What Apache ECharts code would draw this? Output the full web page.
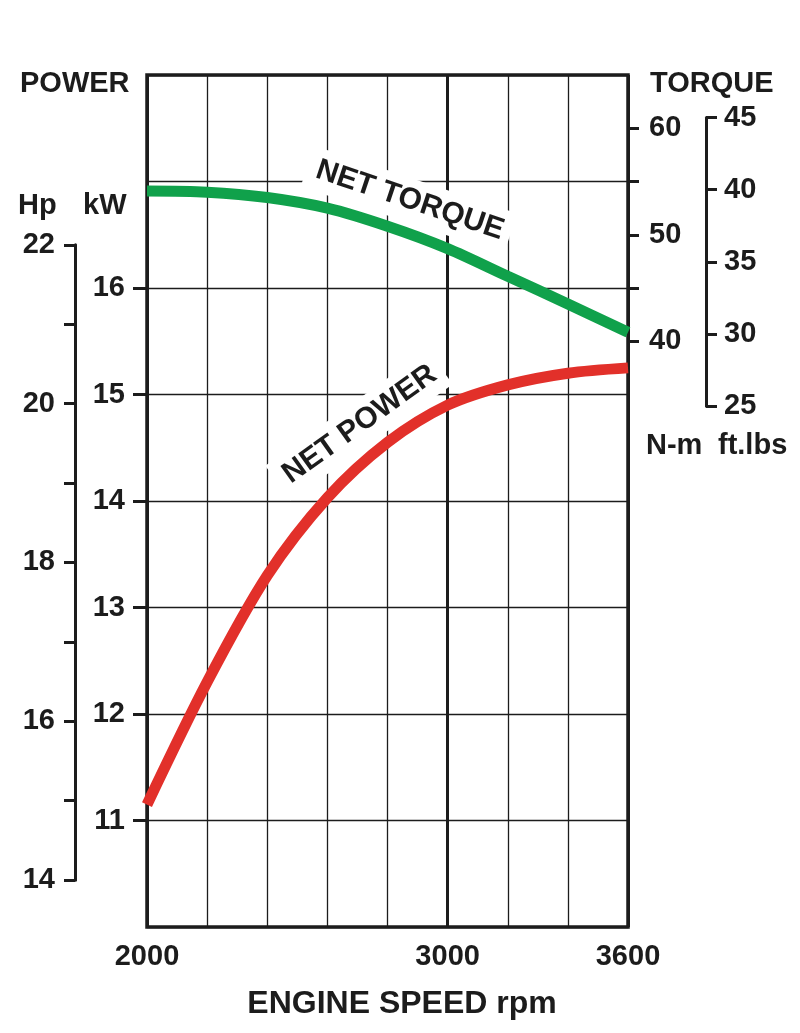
<!DOCTYPE html>
<html>
<head>
    <meta charset="UTF-8">
    <title>Engine performance</title>
    <script src="https://cdn.jsdelivr.net/npm/echarts@6/dist/echarts.min.js"></script>
    <style>
        html, body { margin: 0; padding: 0; background: #fff; }
        #chart { width: 800px; height: 1033px; }
    </style>
</head>
<body>
    <div id="chart"></div>

<script type="text/javascript">
    // engine speed (rpm) and the two curves
    var rpm = [2000, 2200, 2400, 2600, 2800, 3000, 3200, 3400, 3600];
    var torqueNm = [54.1, 54.0, 53.5, 52.5, 50.8, 48.7, 46.1, 43.5, 40.85];
    var powerKw = [11.15, 12.3, 13.3, 14.03, 14.55, 14.9, 15.09, 15.2, 15.25];

    // labelled ticks on the axes
    var rpmLabels = [2000, 3000, 3600];
    var kwLabels = [11, 12, 13, 14, 15, 16];
    var hpLabels = [14, 16, 18, 20, 22];
    var nmLabels = [40, 50, 60];
    var ftlbLabels = [25, 30, 35, 40, 45];

    // unit conversions
    var KW_TO_HP = 1.341;
    var NM_TO_FTLB = 0.7376;

    // plot box (px) and the kW range it spans
    var plot = { left: 147, top: 75, width: 481, height: 852 };
    var kwMin = 10, kwMax = 18;
    // torque axis shares the grid lines: N-m = 10 * kW - 115
    var nmMin = 10 * kwMin - 115, nmMax = 10 * kwMax - 115;

    function yOfKw(v) {
        return plot.top + (kwMax - v) / (kwMax - kwMin) * plot.height;
    }
    function yOfNm(v) {
        return yOfKw((v + 115) / 10);
    }

    var FONT = 'Liberation Sans';
    var INK = '#1c1c1c';
    var labelStyle = { color: INK, fontFamily: FONT, fontWeight: 'bold', fontSize: 29 };

    function only(list) {
        return function (v) { return list.indexOf(v) >= 0 ? String(v) : ''; };
    }

    // short axes drawn on their own thin grids
    var hpTop = yOfKw(hpLabels[hpLabels.length - 1] / KW_TO_HP);
    var hpBot = yOfKw(hpLabels[0] / KW_TO_HP);
    var kwTop = yOfKw(kwLabels[kwLabels.length - 1]);
    var kwBot = yOfKw(kwLabels[0]);
    var nmTop = yOfNm(nmLabels[nmLabels.length - 1]);
    var nmBot = yOfNm(nmLabels[0]);
    var ftTop = yOfNm(ftlbLabels[ftlbLabels.length - 1] / NM_TO_FTLB);
    var ftBot = yOfNm(ftlbLabels[0] / NM_TO_FTLB);

    var myChart = echarts.init(document.getElementById('chart'));

    var option = {
        animation: false,
        backgroundColor: '#fff',
        grid: [
            { left: plot.left, top: plot.top, width: plot.width, height: plot.height,
              show: true, borderColor: INK, borderWidth: 3.5, backgroundColor: 'transparent' },
            { left: 75, top: hpTop, width: 1, height: hpBot - hpTop },
            { left: plot.left - 1, top: kwTop, width: 1, height: kwBot - kwTop },
            { left: plot.left + plot.width - 1, top: nmTop, width: 1, height: nmBot - nmTop },
            { left: 706, top: ftTop, width: 1, height: ftBot - ftTop }
        ],
        xAxis: [
            {
                type: 'value', gridIndex: 0, min: 2000, max: 3600, interval: 200,
                axisLine: { show: false },
                axisTick: { show: false },
                axisLabel: Object.assign({ margin: 15, formatter: only(rpmLabels) }, labelStyle),
                splitLine: { show: true, lineStyle: { color: INK, width: 1.3 } }
            },
            {
                // heavier line at 3000 rpm
                type: 'value', gridIndex: 0, min: 2000, max: 3600, interval: 1000,
                axisLine: { show: false },
                axisTick: { show: false },
                axisLabel: { show: false },
                splitLine: { show: true, lineStyle: { color: INK, width: 3 } }
            },
            { type: 'value', gridIndex: 1, show: false },
            { type: 'value', gridIndex: 2, show: false },
            { type: 'value', gridIndex: 3, show: false },
            { type: 'value', gridIndex: 4, show: false }
        ],
        yAxis: [
            {
                // kW, grid lines of the main plot
                type: 'value', gridIndex: 0, min: kwMin, max: kwMax, interval: 1,
                axisLine: { show: false },
                axisTick: { show: false },
                axisLabel: { show: false },
                splitLine: { show: true, lineStyle: { color: INK, width: 1.3 } }
            },
            {
                // N-m, carries the torque curve
                type: 'value', gridIndex: 0, min: nmMin, max: nmMax, show: false
            },
            {
                // Hp scale
                type: 'value', gridIndex: 1, position: 'left', min: 14, max: 22, interval: 1,
                axisLine: { show: true, lineStyle: { color: INK, width: 3 } },
                axisTick: { show: true, length: 11, lineStyle: { color: INK, width: 3 } },
                axisLabel: Object.assign({ margin: 20, formatter: only(hpLabels) }, labelStyle),
                splitLine: { show: false }
            },
            {
                // kW scale
                type: 'value', gridIndex: 2, position: 'left', min: 11, max: 16, interval: 1,
                axisLine: { show: false },
                axisTick: { show: true, length: 13, lineStyle: { color: INK, width: 3 } },
                axisLabel: Object.assign({ margin: 21, formatter: only(kwLabels) }, labelStyle),
                splitLine: { show: false }
            },
            {
                // N-m scale
                type: 'value', gridIndex: 3, position: 'right', min: 40, max: 60, interval: 5,
                axisLine: { show: false },
                axisTick: { show: true, length: 12, lineStyle: { color: INK, width: 3 } },
                axisLabel: Object.assign({ margin: 21, formatter: only(nmLabels) }, labelStyle),
                splitLine: { show: false }
            },
            {
                // ft.lbs scale
                type: 'value', gridIndex: 4, position: 'right', min: 25, max: 45, interval: 5,
                axisLine: { show: true, lineStyle: { color: INK, width: 3 } },
                axisTick: { show: true, length: 11, lineStyle: { color: INK, width: 3 } },
                axisLabel: Object.assign({ margin: 17, formatter: only(ftlbLabels) }, labelStyle),
                splitLine: { show: false }
            }
        ],
        series: [
            {
                name: 'NET TORQUE',
                type: 'line',
                xAxisIndex: 0, yAxisIndex: 1,
                smooth: 0.3,
                symbol: 'none',
                lineStyle: { color: '#10a14b', width: 11 },
                data: rpm.map(function (r, i) { return [r, torqueNm[i]]; })
            },
            {
                name: 'NET POWER',
                type: 'line',
                xAxisIndex: 0, yAxisIndex: 0,
                smooth: 0.3,
                symbol: 'none',
                lineStyle: { color: '#e2302a', width: 11 },
                data: rpm.map(function (r, i) { return [r, powerKw[i]]; })
            }
        ],
        graphic: [
            { type: 'text', left: 20, top: 69, z: 5,
              style: { text: 'POWER', fill: INK, font: 'bold 29px "' + FONT + '"' } },
            { type: 'text', left: 650, top: 69, z: 5,
              style: { text: 'TORQUE', fill: INK, font: 'bold 29px "' + FONT + '"' } },
            { type: 'text', left: 18, top: 191, z: 5,
              style: { text: 'Hp', fill: INK, font: 'bold 29px "' + FONT + '"' } },
            { type: 'text', left: 83, top: 191, z: 5,
              style: { text: 'kW', fill: INK, font: 'bold 29px "' + FONT + '"' } },
            { type: 'text', left: 646, top: 431, z: 5,
              style: { text: 'N-m', fill: INK, font: 'bold 29px "' + FONT + '"' } },
            { type: 'text', left: 718, top: 431, z: 5,
              style: { text: 'ft.lbs', fill: INK, font: 'bold 29px "' + FONT + '"' } },
            { type: 'text', x: 402, y: 1004, z: 5,
              style: { text: 'ENGINE SPEED rpm', fill: INK, font: 'bold 32px "' + FONT + '"',
                       align: 'center', verticalAlign: 'middle' } },
            // curve names, white box hides the grid behind them
            { type: 'text', x: 409, y: 200, z: 1, rotation: -18.5 * Math.PI / 180,
              style: { text: 'NET TORQUE', fill: INK, font: 'bold 30px "' + FONT + '"',
                       align: 'center', verticalAlign: 'middle',
                       backgroundColor: '#fff', padding: [10, 8, 3, 10] } },
            { type: 'text', x: 359, y: 425, z: 1, rotation: 35.6 * Math.PI / 180,
              style: { text: 'NET POWER', fill: INK, font: 'bold 30px "' + FONT + '"',
                       align: 'center', verticalAlign: 'middle',
                       backgroundColor: '#fff', padding: [10, 8, 3, 10] } }
        ]
    };

    myChart.setOption(option);
</script>
</body>
</html>
